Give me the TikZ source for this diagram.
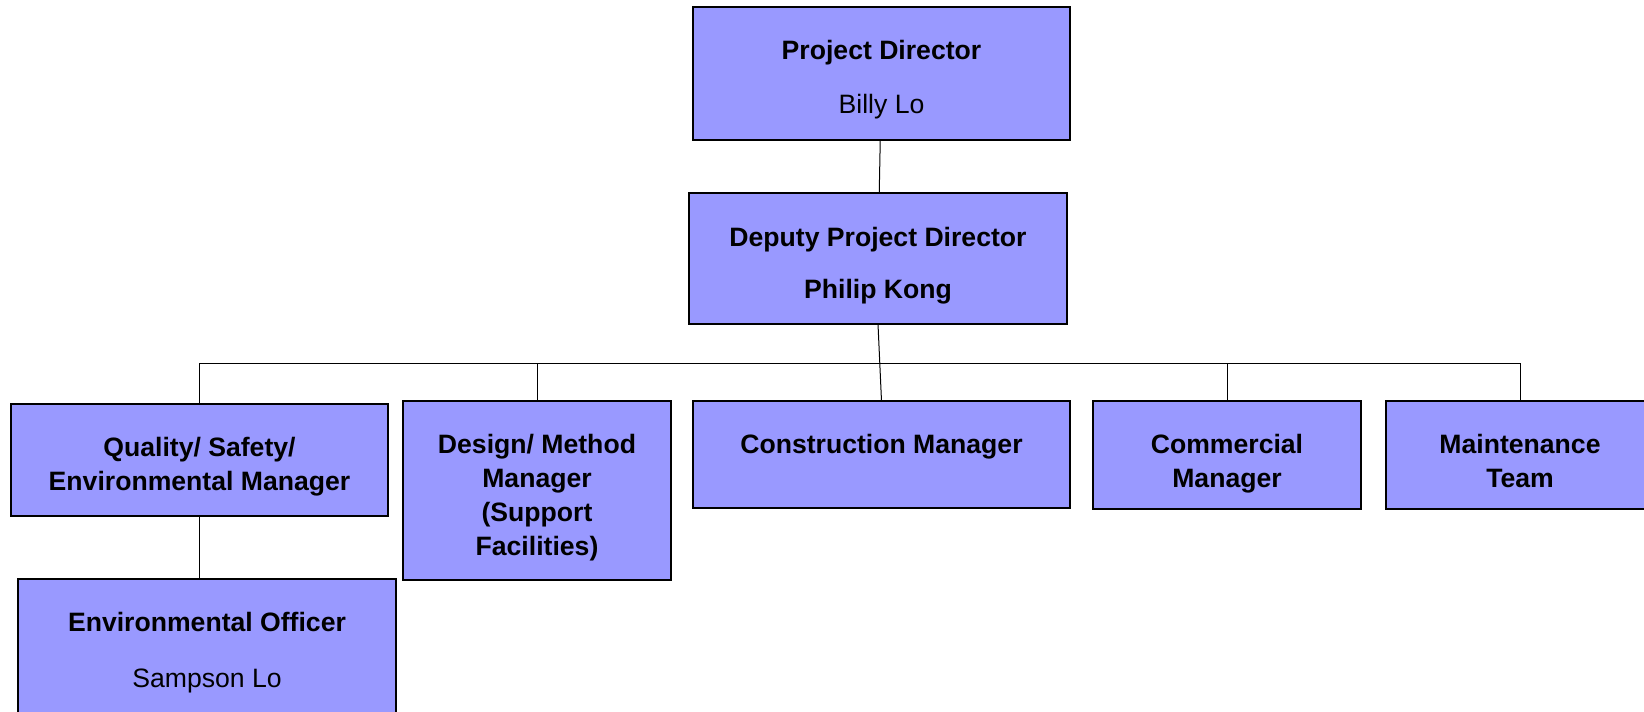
\documentclass[tikz,border=0pt]{standalone}
\usepackage{fontspec}
\setmainfont{Liberation Sans}
\definecolor{boxblue}{RGB}{153,153,255}
\newcommand{\orgtext}[1]{\begin{tabular}[t]{@{}c@{}}#1\end{tabular}}

\begin{document}
\begin{tikzpicture}[x=0.5pt,y=-0.5pt]
\tikzstyle{every node}=[inner sep=0pt, outer sep=0pt]
\tikzstyle{post}=[rectangle, draw=black, line width=1pt, fill=boxblue]
\tikzstyle{boxtext}=[anchor=base, font=\fontsize{13.3pt}{17.15pt}\selectfont\bfseries]
\tikzstyle{wire}=[line width=0.5pt]
\path[use as bounding box, fill=white] (0,0) rectangle (1644,712);
\draw (881.5,73.5) node (pd) [post, minimum width=188.5pt, minimum height=66.5pt] {};
\draw (878,258.5) node (dep) [post, minimum width=189pt, minimum height=65.5pt] {};
\draw (199.5,460) node (qm) [post, minimum width=188.5pt, minimum height=56pt] {};
\draw (537,490.5) node (dm) [post, minimum width=134pt, minimum height=89.5pt] {};
\draw (881.5,454.5) node (cm) [post, minimum width=188.5pt, minimum height=53.5pt] {};
\draw (1227,455) node (com) [post, minimum width=134pt, minimum height=54pt] {};
\draw (1520,455) node (mt) [post, minimum width=134pt, minimum height=54pt] {};
\draw (207,649.5) node (eo) [post, minimum width=189pt, minimum height=70.5pt] {};
\draw (881.5,59) node (pdt) [boxtext] {\orgtext{Project Director\\[10.35pt]\mdseries Billy Lo}};
\draw (878,246) node (dept) [boxtext] {\orgtext{Deputy Project Director\\[8.85pt]Philip Kong}};
\draw (199.5,456) node (qmt) [boxtext] {\orgtext{Quality/ Safety/\\Environmental Manager}};
\draw (537,453) node (dmt) [boxtext] {\orgtext{Design/ Method\\Manager\\(Support\\Facilities)}};
\draw (881.5,453) node (cmt) [boxtext] {Construction Manager};
\draw (1227,453) node (comt) [boxtext] {\orgtext{Commercial\\Manager}};
\draw (1520,453) node (mtt) [boxtext] {\orgtext{Maintenance\\Team}};
\draw (207,631) node (eot) [boxtext] {\orgtext{Environmental Officer\\[10.85pt]\mdseries Sampson Lo}};
\coordinate (bus) at (878,363);
\draw[wire] (pd) -- (dep);
\draw[wire] (dep.south) -- (cm.north);
\draw[wire] (qm.north) -- (qm.north |- bus) -- (mt.north |- bus) -- (mt.north);
\draw[wire] (dm.north) -- (dm.north |- bus);
\draw[wire] (com.north) -- (com.north |- bus);
\draw[wire] (qm.south) -- (qm.south |- eo.north);
\end{tikzpicture}
\end{document}
